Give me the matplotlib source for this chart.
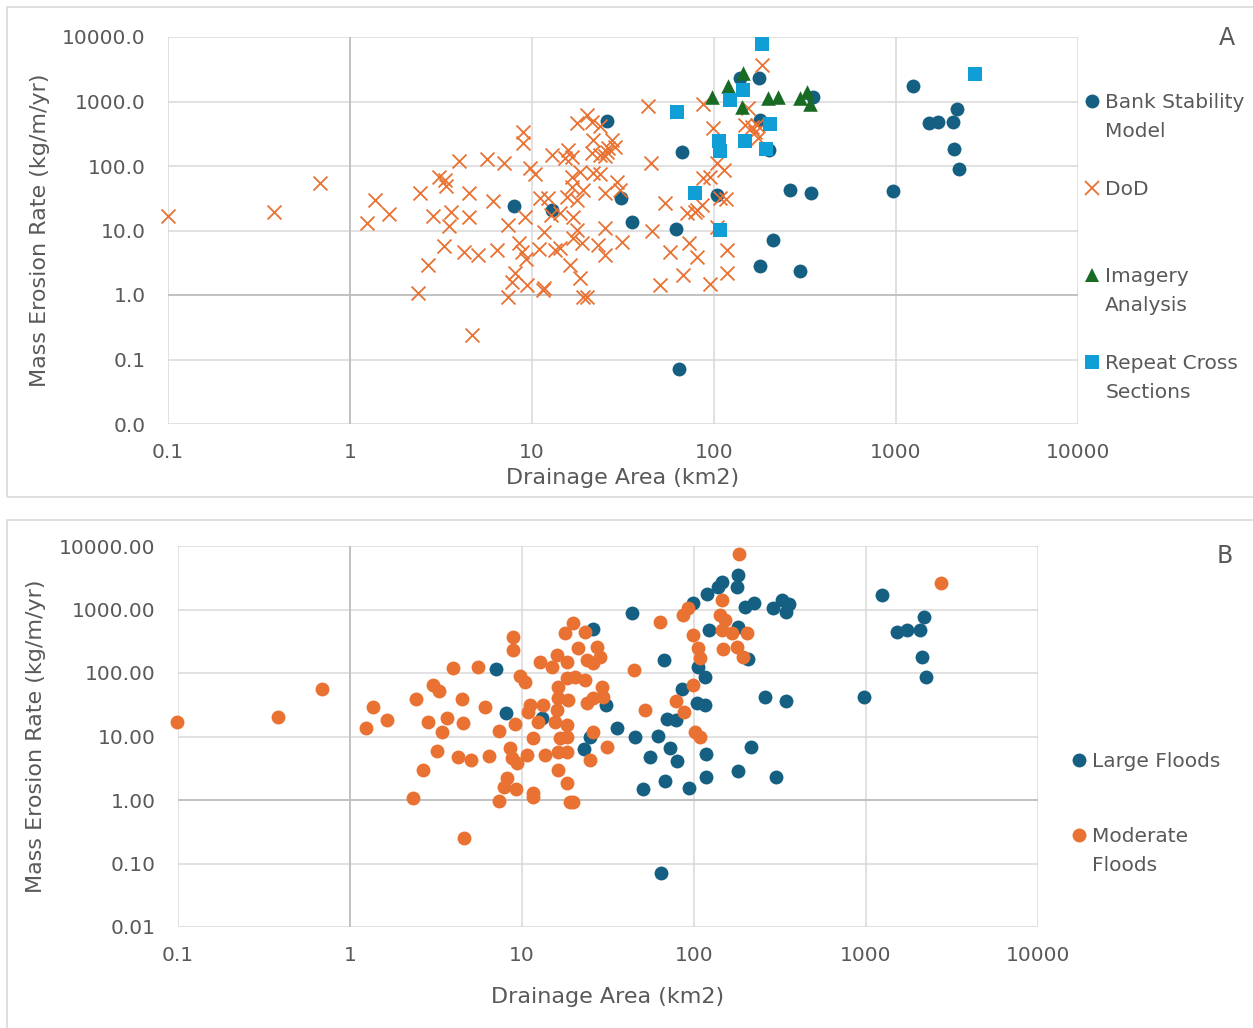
import matplotlib
matplotlib.use("Agg")
import matplotlib.pyplot as plt
from matplotlib.legend import Legend
from matplotlib.lines import Line2D
from matplotlib.patches import Rectangle
from matplotlib.ticker import FixedLocator, NullLocator, FuncFormatter

## Data ##
# Panel A: by method
bsm_area = [8.0, 12.9, 25.8, 31, 35.4, 66.7, 61.8, 64.3, 104, 139, 177, 179, 200, 211,
            179, 262, 297, 341, 350, 964, 1240, 2160, 1520, 1700, 2060, 2080, 2220]
bsm_rate = [23.9, 20.7, 490, 32, 13.5, 164, 10.5, 0.0715, 35.3, 2290, 2290, 512, 176, 7.1,
            2.8, 42, 2.35, 38, 1160, 40.7, 1720, 757, 460, 476, 476, 182, 89]

dod_area = [0.1, 0.382, 0.684, 1.37, 1.64, 1.24, 2.42, 2.36, 2.68, 2.86,
            3.08, 3.33, 3.37, 3.59, 3.50, 3.28, 3.97, 4.23, 4.51, 4.51,
            4.68, 5.05, 5.66, 6.11, 6.42, 7.02, 7.38, 7.38, 7.76, 8.07,
            8.48, 8.81, 8.93, 8.93, 9.15, 9.27, 9.39, 9.75, 10.4, 10.9,
            11.1, 11.6, 11.5, 11.6, 12.2, 12.7, 12.9, 13.4,
            43.4, 87.0, 98.8, 20.1, 17.7, 21.4, 23.6, 21.6, 27.5, 28.6,
            26.2, 15.8, 16.6, 15.2, 21.4, 23.6, 25.2, 25.8, 45.1, 16.6,
            18.4, 21.6, 23.6, 29.3, 16.6, 19.1, 25.2, 30.5, 15.6, 17.7,
            53.8, 87.0, 95.1, 113, 104, 108, 116, 85.9, 80.7,
            14.3, 16.8, 17.7, 25.2, 16.8, 14.3, 18.8, 23.0, 31.2, 25.2,
            16.2, 18.4, 19.1, 20.1, 45.6, 71.1, 78.7, 57.3, 72.9, 80.7,
            67.6, 50.5, 95.1, 118, 118, 104,
            184, 154, 148, 162, 172, 168, 175]
dod_rate = [16.7, 19.3, 54.2, 29.6, 17.9, 13.0, 37.9, 1.07, 2.91, 16.7,
            67.1, 60.3, 48.7, 19.3, 11.7, 5.74, 119, 4.63, 37.9, 16.1,
            0.24, 4.16, 127, 28.5, 4.97, 110, 12.1, 0.93, 1.59, 2.19,
            6.38, 4.63, 334, 225, 16.1, 3.61, 1.43, 92.4, 74.6, 5.15,
            31.7, 9.45, 1.20, 1.28, 31.7, 17.3, 147, 4.97,
            843, 905, 385, 611, 460, 476, 413, 251, 251, 195,
            189, 176, 137, 132, 158, 147, 142, 164, 110, 67.1,
            80.2, 77.4, 74.6, 56.1, 47.0, 42.2, 37.9, 42.2, 32.9, 29.6,
            26.6, 64.7, 67.1, 86.1, 110, 31.7, 30.6, 24.7, 20.7,
            18.6, 16.1, 10.1, 10.9, 7.63, 5.34, 6.38, 5.94, 6.61, 4.16,
            2.91, 1.83, 0.93, 0.93, 9.79, 18.6, 19.3, 4.63, 6.38, 3.88,
            2.04, 1.43, 1.48, 2.19, 4.97, 11.3,
            3630, 785, 428, 399, 428, 334, 269]

img_area = [97.5, 119, 144, 143, 198, 225, 297, 325, 337]
img_rate = [1160, 1720, 2730, 813, 1120, 1160, 1120, 1390, 905]

rxs_area = [62.6, 122, 144, 184, 107, 108, 148, 203, 193, 78.7, 108, 2720]
rxs_rate = [680, 1040, 1490, 7680, 242, 170, 242, 444, 182, 38, 10.1, 2640]

# Panel B: by flood size
big_area = [43.6, 25.9, 7.06, 8.07, 13.1, 30.8, 35.7, 45.4, 24.9, 22.9, 55.5, 50.5,
            180, 178, 145, 138, 119, 98.7, 198, 223, 288, 325, 357, 343,
            180, 122, 206, 66.9, 105, 116, 85.2, 104, 116, 69.7, 78.6, 61.8,
            72.5, 79.6, 117, 117, 67.8, 93.5, 180, 300, 214, 259, 343, 64.3,
            1240, 2170, 1510, 1730, 2060, 2120, 2230, 973]
big_rate = [881, 493, 116, 23.4, 19.6, 31.3, 13.6, 9.82, 9.82, 6.36, 4.75, 1.49,
            3490, 2260, 2710, 2260, 1750, 1265, 1095, 1265, 1056, 1410, 1220, 914,
            530, 475, 166, 160, 124, 86.5, 56.0, 33.7, 31.3, 18.9, 18.2, 10.2,
            6.59, 4.11, 5.30, 2.30, 1.99, 1.55, 2.86, 2.30, 6.83, 41.9, 36.2, 0.0709,
            1690, 762, 442, 475, 475, 179, 86.5, 41.9]

mod_area = [0.0987, 0.381, 0.688, 1.36, 1.64, 1.24, 2.42, 3.04, 3.29, 2.84, 3.43, 3.21, 2.66, 2.32, 4.60,
            19.8, 17.8, 23.2, 8.87, 8.87, 21.2, 27.3, 12.7, 16.0, 18.3,
            14.9, 23.9, 25.9, 28.4, 44.8, 3.97, 5.55, 9.73, 10.4, 18.3,
            20.3, 23.2, 16.2, 29.2, 4.48, 6.10, 16.2, 18.5, 23.9, 25.9,
            29.6, 11.1, 13.2, 10.8, 16.0, 51.9, 3.66, 4.54, 9.10, 12.4,
            15.6, 18.3, 7.35, 11.6, 16.6, 18.3, 25.9, 4.25, 5.05, 6.43,
            8.51, 8.75, 9.35, 10.7, 13.6, 16.2, 18.3, 31.2, 24.9, 16.2,
            8.18, 7.86, 9.23, 18.3, 11.6, 11.6, 7.35, 19.0, 19.8,
            183, 145, 92.3, 86.3, 63.4, 142, 151, 145, 166, 203,
            98.7, 105, 108, 147, 178, 193, 98.7, 78.6, 87.5, 101, 108, 2730]
mod_rate = [16.9, 20.3, 56.0, 29.2, 18.2, 13.6, 39.0, 64.7, 52.1, 16.9, 11.8, 5.91, 2.97, 1.08, 0.252,
            613, 426, 442, 369, 230, 248, 257, 149, 192, 149,
            124, 160, 144, 179, 111, 120, 124, 89.7, 72.2, 83.4,
            86.5, 77.6, 60.2, 60.2, 39.0, 29.2, 40.4, 37.6, 33.7, 40.4,
            41.9, 31.3, 31.3, 24.3, 26.1, 26.1, 19.6, 16.3, 15.7, 16.9,
            16.9, 15.2, 12.2, 9.47, 9.47, 9.82, 11.8, 4.75, 4.26, 4.93,
            6.59, 4.59, 3.83, 5.11, 5.11, 5.70, 5.70, 6.83, 4.26, 2.97,
            2.22, 1.60, 1.49, 1.85, 1.29, 1.11, 0.96, 0.93, 0.93,
            7480, 1410, 1056, 819, 635, 819, 683, 475, 426, 426,
            396, 248, 172, 239, 257, 179, 64.7, 36.2, 24.3, 11.8, 9.82, 2610]

x_ticks = [0.1, 1, 10, 100, 1000, 10000]
y_ticks = [0.01, 0.1, 1, 10, 100, 1000, 10000]

## Style ##
C_BLUE = "#156082"
C_ORANGE = "#E97132"
C_GREEN = "#196B24"
C_LBLUE = "#0F9ED5"
TXT = "#595959"
GRID = "#D9D9D9"

W, H = 1253, 1028
fig = plt.figure(figsize=(W / 100, H / 100), dpi=100)


def fx(px):
    return px / W


def fy(py):
    return 1 - py / H


# chart area borders
fig.patches.append(Rectangle((fx(7), fy(497)), fx(1300) - fx(7), fy(7) - fy(497),
                             transform=fig.transFigure, fill=False, edgecolor=GRID, lw=1.2))
fig.patches.append(Rectangle((fx(7), fy(1060)), fx(1300) - fx(7), fy(520) - fy(1060),
                             transform=fig.transFigure, fill=False, edgecolor=GRID, lw=1.2))

axA = fig.add_axes([fx(168), fy(424), fx(1078) - fx(168), fy(37) - fy(424)])
axB = fig.add_axes([fx(178), fy(927), fx(1038) - fx(178), fy(546) - fy(927)])


def style(ax, yfmt, xlab_y, ylab_x):
    ax.set_xscale("log")
    ax.set_yscale("log")
    ax.set_xlim(0.1, 10000)
    ax.set_ylim(0.01, 10000)
    ax.xaxis.set_major_locator(FixedLocator(x_ticks))
    ax.yaxis.set_major_locator(FixedLocator(y_ticks))
    ax.xaxis.set_minor_locator(NullLocator())
    ax.yaxis.set_minor_locator(NullLocator())
    ax.xaxis.set_major_formatter(FuncFormatter(lambda v, p: f"{v:g}"))
    ax.yaxis.set_major_formatter(FuncFormatter(lambda v, p: yfmt.format(v)))
    ax.grid(True, color=GRID, lw=1.1)
    ax.set_axisbelow(True)
    ax.axhline(1, color="#BFBFBF", lw=1.3, zorder=1)
    ax.axvline(1, color="#BFBFBF", lw=1.3, zorder=1)
    for s in ax.spines.values():
        s.set_visible(False)
    ax.tick_params(axis="x", length=0, labelsize=14.5, colors=TXT, pad=14)
    ax.tick_params(axis="y", length=0, labelsize=14.5, colors=TXT, pad=16)
    ax.set_xlabel("Drainage Area (km2)", fontsize=16, color=TXT, va="center")
    ax.set_ylabel("Mass Erosion Rate (kg/m/yr)", fontsize=16, color=TXT, va="center")
    ax.xaxis.set_label_coords(0.5, xlab_y)
    ax.yaxis.set_label_coords(ylab_x, 0.5)


style(axA, "{:.1f}", -0.1395, -0.1407)
style(axB, "{:.2f}", -0.1837, -0.1651)

## Panel A ##
axA.scatter(bsm_area, bsm_rate, s=100, marker="o", color=C_BLUE, linewidths=0, zorder=3, clip_on=False)
axA.scatter(dod_area, dod_rate, s=100, marker="x", color=C_ORANGE, linewidths=1.3, zorder=4, clip_on=False)
axA.scatter(img_area, img_rate, s=110, marker="^", color=C_GREEN, linewidths=0, zorder=5, clip_on=False)
axA.scatter(rxs_area, rxs_rate, s=95, marker="s", color=C_LBLUE, linewidths=0, zorder=6, clip_on=False)

## Panel B ##
axB.scatter(big_area, big_rate, s=100, marker="o", color=C_BLUE, linewidths=0, zorder=3, clip_on=False)
axB.scatter(mod_area, mod_rate, s=100, marker="o", color=C_ORANGE, linewidths=0, zorder=4, clip_on=False)

blank = Line2D([], [], linestyle="none", marker="")


def key(ax, handle, lines, left_px, top_px):
    # one legend block per series so the marker sits on the first text line
    hs = [handle] + [blank] * (len(lines) - 1)
    leg = Legend(ax, hs, lines, loc="upper left", bbox_to_anchor=(fx(left_px), fy(top_px)),
                 bbox_transform=fig.transFigure, frameon=False, borderpad=0,
                 borderaxespad=0, handlelength=0.8, handletextpad=0.25,
                 labelspacing=0.48, fontsize=14.5, labelcolor=TXT)
    ax.add_artist(leg)


def mk(marker, color, size=10, mew=0):
    return Line2D([], [], linestyle="none", marker=marker, color=color,
                  markersize=size, markeredgewidth=mew)


key(axA, mk("o", C_BLUE), ["Bank Stability", "Model"], 1084, 93)
key(axA, mk("x", C_ORANGE, 10, 1.3), ["DoD"], 1084, 180)
key(axA, mk("^", C_GREEN, 10.5), ["Imagery", "Analysis"], 1084, 267)
key(axA, mk("s", C_LBLUE, 9.5), ["Repeat Cross", "Sections"], 1084, 354)

key(axB, mk("o", C_BLUE), ["Large Floods"], 1071, 752)
key(axB, mk("o", C_ORANGE), ["Moderate", "Floods"], 1071, 827)

fig.text(fx(1227), fy(38), "A", ha="center", va="center", fontsize=17, color=TXT)
fig.text(fx(1225), fy(556), "B", ha="center", va="center", fontsize=17, color=TXT)

fig.savefig("out.png", dpi=100)
